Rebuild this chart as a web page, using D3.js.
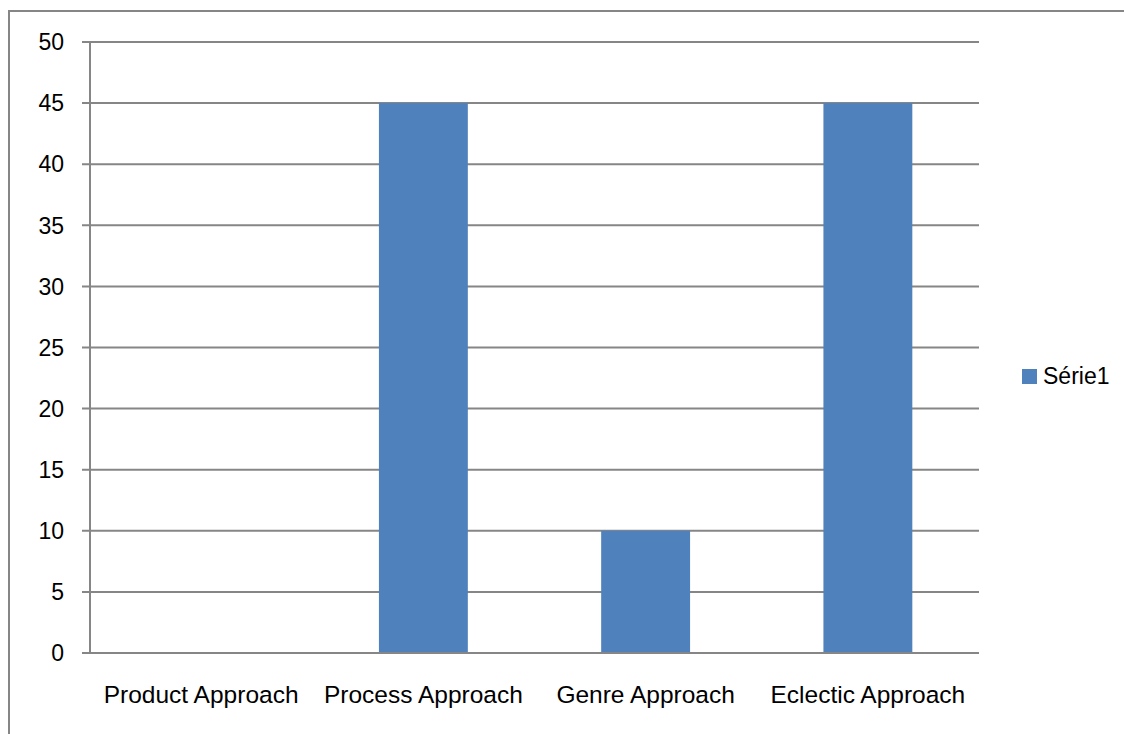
<!DOCTYPE html>
<html>
<head>
<meta charset="utf-8">
<script src="https://cdn.jsdelivr.net/npm/d3@7"></script>
<style>
  html, body { margin: 0; padding: 0; background: #fff; }
  svg { display: block; }
  text { font-family: "Liberation Sans", Arial, sans-serif; fill: #000; }
</style>
</head>
<body>
<svg id="chart" width="1124" height="734"></svg>
<script>
// Writing approaches and their counts
const categories = ["Product Approach", "Process Approach", "Genre Approach", "Eclectic Approach"];
const values = [0, 45, 10, 45];
const seriesName = "Série1";
const yTicks = [0, 5, 10, 15, 20, 25, 30, 35, 40, 45, 50];

const svg = d3.select("#chart");
const W = 1124, H = 734;
const plot = { left: 90, right: 979, top: 42, bottom: 653 };
const gridColor = "#868686";
const barColor = "#4f81bd";
const fontSize = 23;

// Outer chart frame (clipped at the right and bottom edges)
svg.append("rect")
  .attr("x", 9).attr("y", 11)
  .attr("width", W).attr("height", H)
  .attr("fill", "none")
  .attr("stroke", gridColor)
  .attr("stroke-width", 2);

const x = d3.scaleBand()
  .domain(categories)
  .range([plot.left, plot.right])
  .paddingInner(0)
  .paddingOuter(0);

const y = d3.scaleLinear()
  .domain([0, 50])
  .range([plot.bottom, plot.top]);

// Horizontal gridlines with left tick marks
svg.append("g")
  .selectAll("line")
  .data(yTicks)
  .join("line")
  .attr("x1", plot.left - 8)
  .attr("x2", plot.right)
  .attr("y1", d => y(d))
  .attr("y2", d => y(d))
  .attr("stroke", gridColor)
  .attr("stroke-width", 2);

// Vertical axis line
svg.append("line")
  .attr("x1", plot.left).attr("x2", plot.left)
  .attr("y1", y(50)).attr("y2", y(0))
  .attr("stroke", gridColor)
  .attr("stroke-width", 2);

// Y tick labels
svg.append("g")
  .selectAll("text")
  .data(yTicks)
  .join("text")
  .attr("x", 64)
  .attr("y", d => y(d))
  .attr("dy", "0.36em")
  .attr("text-anchor", "end")
  .attr("font-size", fontSize)
  .text(d => d);

// Bars
const barWidth = x.bandwidth() * 0.4;
svg.append("g")
  .selectAll("rect")
  .data(values)
  .join("rect")
  .attr("x", (d, i) => x(categories[i]) + (x.bandwidth() - barWidth) / 2)
  .attr("width", barWidth)
  .attr("y", d => y(d))
  .attr("height", d => y(0) - y(d))
  .attr("fill", barColor);

// Redraw the baseline above the bars
svg.append("line")
  .attr("x1", plot.left - 8).attr("x2", plot.right)
  .attr("y1", y(0)).attr("y2", y(0))
  .attr("stroke", gridColor)
  .attr("stroke-width", 2);

// Category labels
svg.append("g")
  .selectAll("text")
  .data(categories)
  .join("text")
  .attr("x", d => x(d) + x.bandwidth() / 2)
  .attr("y", 703)
  .attr("text-anchor", "middle")
  .attr("font-size", 24.5)
  .text(d => d);

// Legend
const legend = svg.append("g").attr("transform", "translate(1022,369)");
legend.append("rect")
  .attr("width", 15).attr("height", 15)
  .attr("fill", barColor);
legend.append("text")
  .attr("x", 21)
  .attr("y", 14.5)
  .attr("font-size", fontSize)
  .text(seriesName);
</script>
</body>
</html>
